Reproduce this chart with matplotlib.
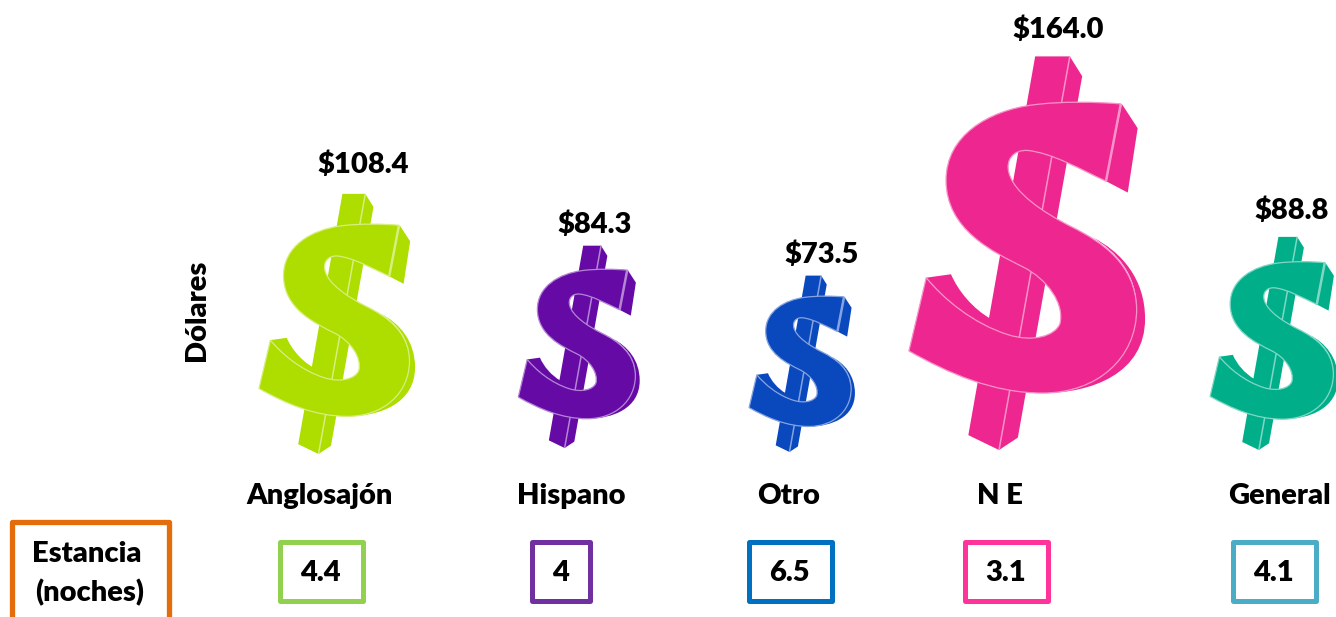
"""Pictograph: spending per visitor by group, dollar signs scaled to the value."""
import matplotlib

matplotlib.use("Agg")
import matplotlib.pyplot as plt
from matplotlib.colors import to_rgb
from matplotlib.patches import PathPatch, Rectangle
from matplotlib.path import Path
from matplotlib.transforms import Affine2D

categories = ["Anglosajón", "Hispano", "Otro", "N E", "General"]
dollars = [108.4, 84.3, 73.5, 164.0, 88.8]
dollar_labels = ["$108.4", "$84.3", "$73.5", "$164.0", "$88.8"]
nights = ["4.4", "4", "6.5", "3.1", "4.1"]

# layout, all in reference pixels
W, H = 1336, 617
ZERO_Y = 452
PX_PER_USD = 2.4
glyph_x = [337, 579, 802, 1027, 1274]
glyph_base = [454, 448, 452, 450, 450]
value_x = [363, 595, 822, 1058, 1292]
value_gap = [31, 23, 23, 29, 28]
cat_x = [320, 571, 789, 1000, 1279]
box_x = [(280, 363), (532, 590), (749, 832), (965, 1048), (1233, 1316)]
glyph_colors = ["#AEDD00", "#660AA6", "#0A48BE", "#EE2790", "#00AF8A"]
box_colors = ["#92D050", "#7030A0", "#0070C0", "#FF3399", "#4BACC6"]

M, L, C, Z = Path.MOVETO, Path.LINETO, Path.CURVE4, Path.CLOSEPOLY


def shape(*segments):
    """Build a unit-height path from (code, points) pieces, drawn on a 795 tall sketch."""
    verts, codes = [], []
    for code, pts in segments:
        for x, y in pts:
            verts.append(((x - 288.5) / 795, (945 - y) / 795))
            codes.append(code)
    verts.append(verts[0])
    codes.append(Z)
    return Path(verts, codes)


FRONT = shape(
    (M, [(478, 246)]),
    (L, [(448, 402)]),
    (C, [(400, 380), (340, 345), (290, 340)]),
    (C, [(260, 338), (245, 360), (252, 385)]),
    (C, [(262, 425), (320, 465), (380, 495)]),
    (C, [(440, 525), (508, 570), (510, 660)]),
    (C, [(510, 760), (430, 830), (320, 830)]),
    (C, [(220, 830), (130, 790), (50, 745)]),
    (L, [(85, 597)]),
    (C, [(120, 640), (180, 690), (250, 712)]),
    (C, [(300, 728), (345, 715), (355, 690)]),
    (C, [(365, 650), (330, 600), (280, 575)]),
    (C, [(220, 545), (125, 500), (125, 400)]),
    (C, [(125, 310), (210, 260), (300, 248)]),
    (C, [(360, 240), (430, 242), (478, 246)]),
)
LOBE = shape(
    (M, [(420, 515)]),
    (C, [(470, 545), (510, 590), (510, 660)]),
    (C, [(510, 760), (430, 830), (320, 830)]),
    (C, [(420, 830), (527, 790), (527, 680)]),
    (C, [(527, 600), (480, 545), (420, 515)]),
)
TIP_RIGHT = shape((M, [(480, 246)]), (L, [(512, 295), (492, 425), (448, 402)]))
TIP_LEFT = shape(
    (M, [(85, 597)]),
    (L, [(135, 590)]),
    (C, [(150, 625), (180, 660), (215, 680)]),
    (L, [(250, 712)]),
    (C, [(180, 690), (120, 640), (85, 597)]),
)
BAR = shape((M, [(305, 150)]), (L, [(375, 150), (400, 190), (270, 920), (232, 945), (170, 915)]))
RIDGE = Path([((375 - 288.5) / 795, (945 - 150) / 795), ((232 - 288.5) / 795, 0)])
TIP_RIDGE = Path([((478 - 288.5) / 795, (945 - 246) / 795), ((448 - 288.5) / 795, (945 - 402) / 795)])


def lighten(color, amount=0.5):
    return tuple(c + (1 - c) * amount for c in to_rgb(color))


def draw_dollar(ax, x, base_px, value, color):
    # height follows the value on the y axis, width keeps the glyph's proportions
    base = (ZERO_Y - base_px) / PX_PER_USD
    tr = Affine2D().scale(value * PX_PER_USD, value).translate(x, base) + ax.transData
    light = lighten(color)
    ax.add_patch(PathPatch(BAR, fc=color, ec="none", transform=tr, zorder=2))
    ax.add_patch(PathPatch(RIDGE, fc="none", ec=light, lw=1.1, transform=tr, zorder=2.1))
    for side in (LOBE, TIP_RIGHT, TIP_LEFT):
        ax.add_patch(PathPatch(side, fc=color, ec="none", transform=tr, zorder=3))
    ax.add_patch(PathPatch(FRONT, fc=color, ec=light, lw=0.9, transform=tr, zorder=4))
    ax.add_patch(PathPatch(TIP_RIDGE, fc="none", ec=light, lw=1.8, transform=tr, zorder=5))


plt.rcParams["font.family"] = ["Lato", "DejaVu Sans"]

fig = plt.figure(figsize=(W / 100, H / 100), dpi=100)
ax = fig.add_axes([0, 0, 1, 1])
ax.set_xlim(0, W)
ax.set_ylim((ZERO_Y - H) / PX_PER_USD, ZERO_Y / PX_PER_USD)
ax.axis("off")


def y_px(px):
    return (ZERO_Y - px) / PX_PER_USD


def label(x, y, s, size=21, **kw):
    ax.text(x, y_px(y + 2), s, fontsize=size, ha="center", va="center", color="black",
            fontweight="heavy", zorder=6, **kw)


def box(x0, x1, top, bottom, color, lw):
    ax.add_patch(Rectangle((x0, y_px(bottom)), x1 - x0, y_px(top) - y_px(bottom),
                           fc="white", ec=color, lw=lw, joinstyle="round", zorder=1))


for i, value in enumerate(dollars):
    draw_dollar(ax, glyph_x[i], glyph_base[i], value, glyph_colors[i])
    top_px = glyph_base[i] - value * PX_PER_USD
    label(value_x[i], top_px - value_gap[i], dollar_labels[i])
    label(cat_x[i], 494, categories[i])
    box(box_x[i][0], box_x[i][1], 542, 601, box_colors[i], 3.6)
    label(sum(box_x[i]) / 2 - 1, 571, nights[i])

box(12, 169, 522, 625, "#E46C0A", 3.8)
label(87, 552, "Estancia")
label(90, 591, "(noches)")
label(197, 308, "Dólares", rotation=90)

fig.savefig("out.png", dpi=100)
